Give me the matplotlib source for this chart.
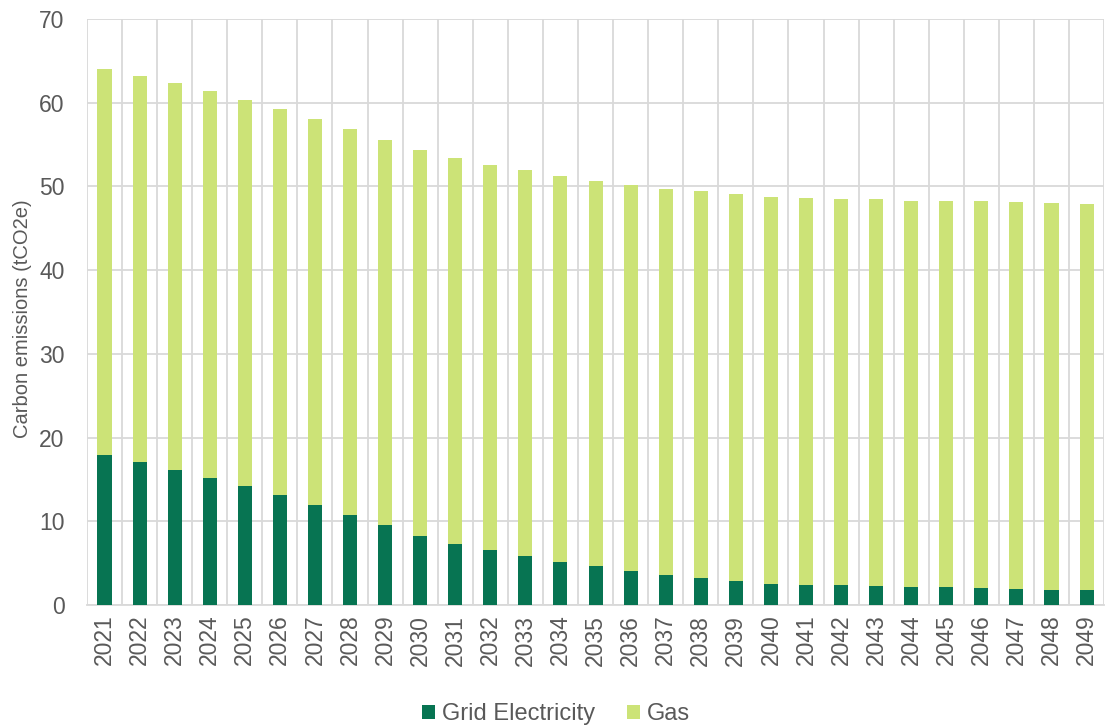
import matplotlib.pyplot as plt
import numpy as np

plt.rcParams['font.family'] = ['Liberation Sans', 'DejaVu Sans']

# data
years = [str(y) for y in range(2021, 2050)]
total = [64.0, 63.2, 62.3, 61.4, 60.3, 59.2, 58.1, 56.9, 55.6, 54.4,
         53.4, 52.6, 52.0, 51.3, 50.7, 50.2, 49.7, 49.4, 49.1, 48.7,
         48.6, 48.5, 48.45, 48.3, 48.25, 48.2, 48.1, 48.0, 47.9]
grid_elec = [17.9, 17.1, 16.1, 15.2, 14.2, 13.1, 12.0, 10.8, 9.6, 8.2,
             7.3, 6.6, 5.8, 5.1, 4.6, 4.06, 3.6, 3.2, 2.9, 2.5,
             2.4, 2.4, 2.3, 2.2, 2.15, 2.0, 1.9, 1.85, 1.8]
gas = [t - e for t, e in zip(total, grid_elec)]

DARK = '#077452'
LIGHT = '#CCE377'
GRID = '#D9D9D9'
TXT = '#595959'

fig = plt.figure(figsize=(11.05, 7.27), dpi=100)
ax = fig.add_axes([0.0787, 0.1678, 0.9205, 0.8061])

x = np.arange(len(years))
ax.bar(x, grid_elec, width=0.4, color=DARK, label='Grid Electricity', zorder=3)
ax.bar(x, gas, width=0.4, bottom=grid_elec, color=LIGHT, label='Gas', zorder=3)

ax.set_xlim(-0.5, len(years) - 0.5)
ax.set_ylim(0, 70)
ax.set_yticks(range(0, 71, 10))
ax.set_xticks(x)
ax.set_xticklabels(years, rotation=90)
ax.set_xticks(np.arange(-0.5, len(years), 1), minor=True)

ax.grid(axis='y', color=GRID, linewidth=1.3, zorder=0)
ax.grid(axis='x', which='minor', color=GRID, linewidth=1.3, zorder=0)
ax.tick_params(axis='both', which='both', length=0, colors=TXT, labelsize=16.5)
ax.tick_params(axis='y', pad=16)
ax.tick_params(axis='x', pad=7)
for s in ['top', 'right', 'left']:
    ax.spines[s].set_visible(False)
ax.spines['bottom'].set_color(GRID)
ax.spines['bottom'].set_linewidth(1.3)

ax.set_ylabel('Carbon emissions (tCO2e)', color=TXT, fontsize=14.5)
ax.yaxis.set_label_coords(-0.054, 0.488)

fig.legend(loc='lower center', bbox_to_anchor=(0.503, -0.027), ncol=2, frameon=False,
           fontsize=17, labelcolor=TXT, handlelength=0.55, handleheight=0.55,
           handletextpad=0.3, columnspacing=1.35)

fig.savefig('out.png', dpi=100)
